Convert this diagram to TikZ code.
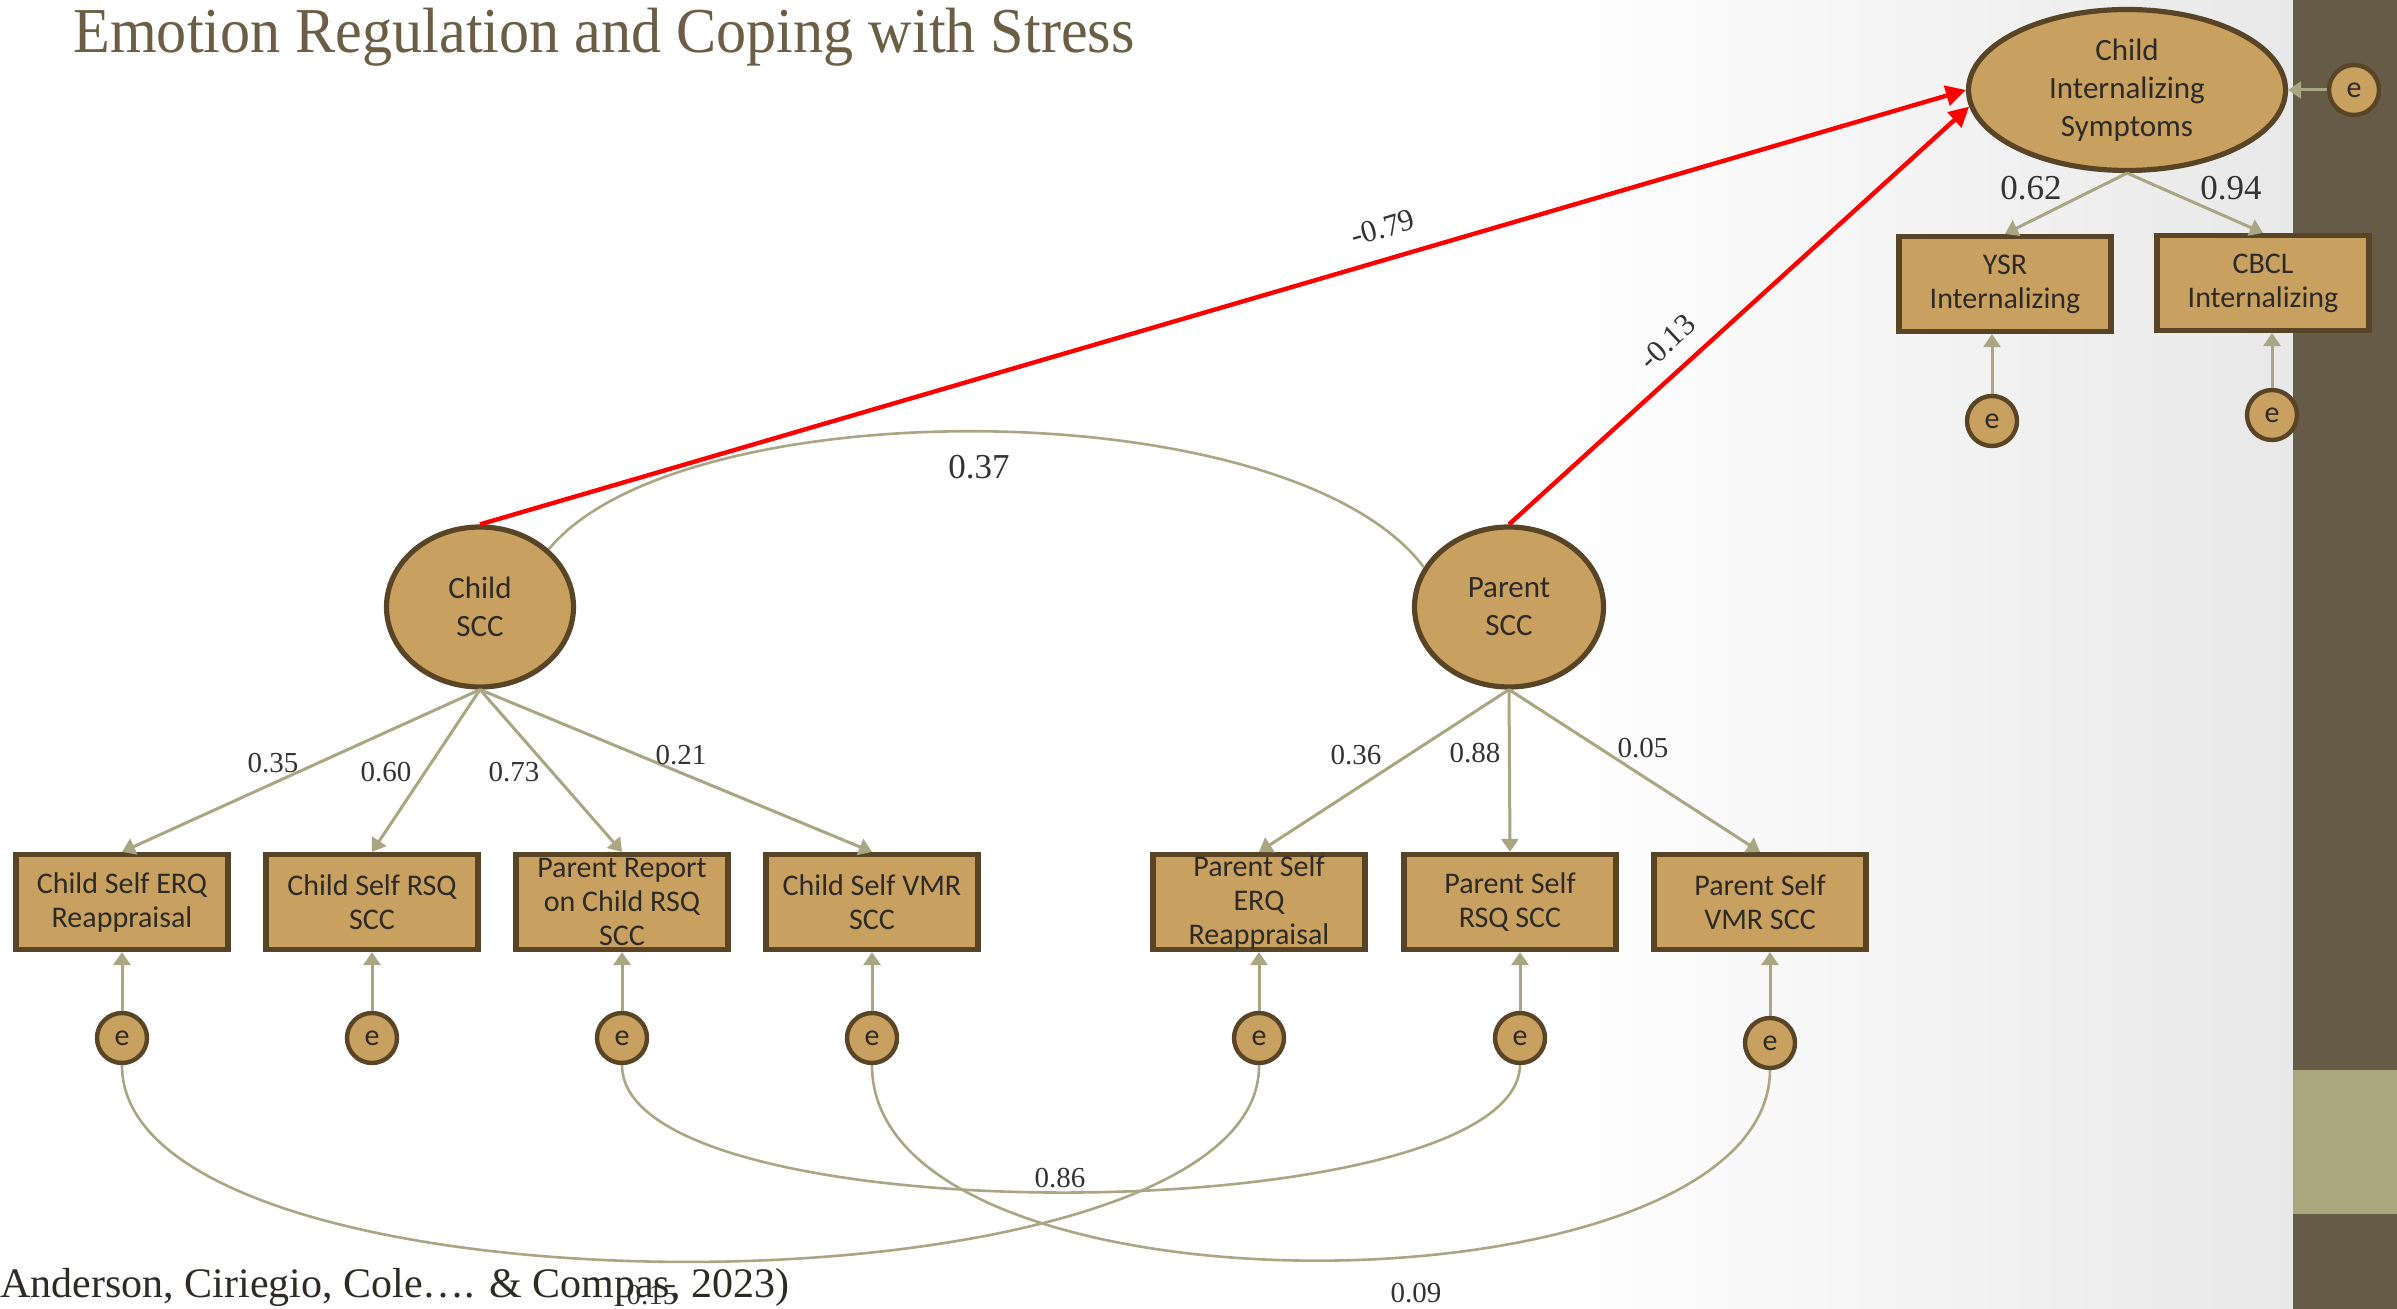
\documentclass[tikz,border=0pt]{standalone}
\usepackage{graphicx}
\usepackage{fontspec}
\setmainfont{Liberation Serif}
\newfontfamily\carl{Carlito}
\usetikzlibrary{shapes.geometric,arrows.meta}
\definecolor{tanf}{HTML}{C8A060}
\definecolor{brd}{HTML}{5A4426}
\definecolor{olv}{HTML}{A9A683}
\definecolor{ttl}{HTML}{6B5E45}
\definecolor{bandd}{HTML}{655B47}
\definecolor{bandl}{HTML}{AAA77F}
\definecolor{txt}{HTML}{2E2B26}
\definecolor{numc}{HTML}{333333}
\begin{document}
\begin{tikzpicture}[x=0.5pt,y=-0.5pt,
 obs/.style={draw=brd, line width=2.6pt, fill=tanf, minimum width=106pt, minimum height=47.5pt, inner sep=0pt, align=center, font=\carl\fontsize{15pt}{17pt}\selectfont, text=txt},
 lat/.style={ellipse, draw=brd, line width=2.6pt, fill=tanf, inner sep=0pt, align=center, font=\carl\fontsize{15.5pt}{19pt}\selectfont, text=txt},
 err/.style={circle, draw=brd, line width=2.2pt, fill=tanf, minimum size=25pt, inner sep=0pt, font=\carl\fontsize{15pt}{17pt}\selectfont, text=txt},
 load/.style={draw=olv, line width=1.5pt, -{Triangle[length=6.5pt,width=8.5pt]}},
 reg/.style={draw=red, line width=2.2pt, -{Triangle[length=10pt,width=10pt]}},
 cov/.style={draw=olv, line width=1.3pt},
 numl/.style={font=\fontsize{14.5pt}{16pt}\selectfont, text=numc, inner sep=1pt},
 numbig/.style={numl, font=\fontsize{17.5pt}{19pt}\selectfont},
]
\useasboundingbox (0,0) rectangle (2397,1309);
\fill[white] (0,0) rectangle (2397,1309);
\shade[left color=white, right color=black!9] (1550,0) rectangle (2293,1309);
\fill[bandd] (2293,0) rectangle (2397,1309);
\fill[bandl] (2293,1070) rectangle (2397,1214);

% title
\node[anchor=base west, font=\fontsize{32pt}{38pt}\selectfont, text=ttl, inner sep=0pt] (title) at (73,53) {\scalebox{0.94}[1]{Emotion Regulation and Coping with Stress}};

% latent variables
\node[lat, minimum width=158.5pt, minimum height=80.5pt] (cis) at (2127,90) {Child\\Internalizing\\Symptoms};
\node[lat, minimum width=93.5pt, minimum height=80pt] (cscc) at (480,607) {Child\\SCC};
\node[lat, minimum width=94.5pt, minimum height=80pt] (pscc) at (1509,607) {Parent\\SCC};

% outcome indicators
\node[obs] (ysr) at (2005,284) {YSR\\Internalizing};
\node[obs] (cbcl) at (2263,283) {CBCL\\Internalizing};
\node[err] (ecis) at (2354,90) {e};
\node[err] (eysr) at (1992,421) {e};
\node[err] (ecbcl) at (2272,415) {e};

% SCC indicators
\node[obs] (b1) at (122,902) {Child Self ERQ\\Reappraisal};
\node[obs] (b2) at (372,902) {Child Self RSQ\\SCC};
\node[obs] (b3) at (622,902) {Parent Report\\on Child RSQ\\SCC};
\node[obs] (b4) at (872,902) {Child Self VMR\\SCC};
\node[obs] (b5) at (1259,902) {Parent Self\\ERQ\\Reappraisal};
\node[obs] (b6) at (1510,902) {Parent Self\\RSQ SCC};
\node[obs] (b7) at (1760,902) {Parent Self\\VMR SCC};

\node[err] (e1) at (122,1038) {e};
\node[err] (e2) at (372,1038) {e};
\node[err] (e3) at (622,1038) {e};
\node[err] (e4) at (872,1038) {e};
\node[err] (e5) at (1259,1038) {e};
\node[err] (e6) at (1520,1038) {e};
\node[err] (e7) at (1770,1043) {e};

% loadings
\foreach \b in {b1,b2,b3,b4} \draw[load] (cscc.south) -- (\b.north);
\foreach \b in {b5,b6,b7} \draw[load] (pscc.south) -- (\b.north);
\draw[load] (cis.south) -- (ysr.north);
\draw[load] (cis.south) -- (cbcl.north);

% error arrows
\foreach \e/\b in {e1/b1,e2/b2,e3/b3,e4/b4,e5/b5,e6/b6,e7/b7,eysr/ysr,ecbcl/cbcl}
  \draw[load] (\e.north) -- (\e.north |- \b.south);
\draw[load] (ecis.west) -- (cis.east);

% covariances
\draw[cov] (cscc.40) .. controls (680,389) and (1290,389) .. (pscc.155);
\draw[cov] (e1.south) .. controls (122,1330) and (1262,1325) .. (e5.south);
\draw[cov] (e3.south) .. controls (622,1238) and (1516,1232) .. (e6.south);
\draw[cov] (e4.south) .. controls (872,1330) and (1768,1320) .. (e7.south);

% regressions
\draw[reg] (cscc.north) -- (cis.west);
\draw[reg] (pscc.north) -- (cis.186);

% coefficient labels
\node[numl] (l35) at (273,763) {0.35};
\node[numl] (l60) at (386,772) {0.60};
\node[numl] (l73) at (514,772) {0.73};
\node[numl] (l21) at (681,755) {0.21};
\node[numl] (l36) at (1356,755) {0.36};
\node[numl] (l88) at (1475,753) {0.88};
\node[numl] (l05) at (1643,748) {0.05};
\node[numbig] (l62) at (2031,188) {0.62};
\node[numbig] (l94) at (2231,188) {0.94};
\node[numbig] (l37) at (979,467) {0.37};
\node[numl] (l86) at (1060,1178) {0.86};
\node[numl] (l09) at (1416,1293) {0.09};
\node[numl] (l15) at (652,1295) {0.15};
\node[numl, font=\fontsize{15.5pt}{17pt}\selectfont, rotate=16.3] (l79) at (1383,228) {-0.79};
\node[numl, font=\fontsize{15.5pt}{17pt}\selectfont, rotate=43.5] (l13) at (1667,342) {-0.13};

% citation
\node[anchor=base west, font=\fontsize{21pt}{25pt}\selectfont, text=txt, inner sep=0pt] (cite) at (0,1297) {Anderson, Ciriegio, Cole…. \& Compas, 2023)};
\end{tikzpicture}
\end{document}
